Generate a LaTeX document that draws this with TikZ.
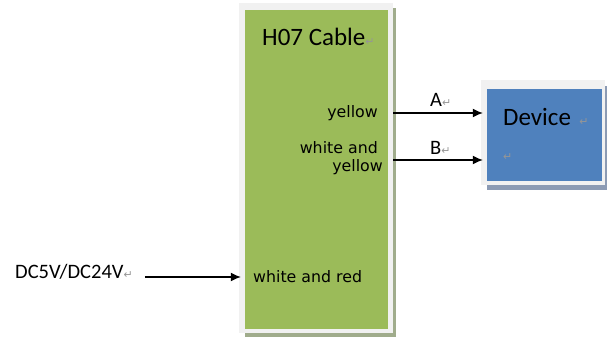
\documentclass[tikz,border=0pt]{standalone}
\usepackage{xcolor}
\usepackage{fontspec}
\setmainfont{Carlito}
\newfontfamily\wirefont{DejaVu Sans}
\usepackage{tikz}
\usetikzlibrary{arrows.meta, positioning}

\definecolor{cablegreen}{RGB}{155,187,89}
\definecolor{cableshade}{RGB}{160,172,140}
\definecolor{deviceblue}{RGB}{79,129,189}
\definecolor{deviceshade}{RGB}{140,155,180}
\definecolor{framegray}{RGB}{241,241,241}
\definecolor{markgray}{RGB}{150,150,150}

\newcommand{\pmark}{{\wirefont\color{markgray}\fontsize{11}{11}\selectfont ↵}}

\tikzset{
  boxframe/.style={fill=framegray, draw=none, inner sep=0pt},
  wire/.style={-{Latex[length=10pt,width=9pt]}, line width=1.3pt},
  wiretext/.style={font=\wirefont\fontsize{15.8}{18}\selectfont, inner sep=0pt},
  bigtext/.style={font=\fontsize{25}{28}\selectfont, inner sep=0pt},
  midtext/.style={font=\fontsize{20.5}{24}\selectfont, inner sep=0pt}
}

\begin{document}
\begin{tikzpicture}[x=1pt,y=-1pt]
        \useasboundingbox (0,0) rectangle (607,338);

            % cable block
            \fill[cableshade] (245,8) rectangle (396,337);
            \node[boxframe, minimum width=154pt, minimum height=330pt] (cableframe) at (316,168) {};
            \node[fill=cablegreen, minimum width=143pt, minimum height=319pt, inner sep=0pt] (cable) at (316.5,169.5) {};

            % device block
            \fill[deviceshade] (487,86) rectangle (607,190);
            \node[boxframe, minimum width=124pt, minimum height=105pt] (deviceframe) at (543,132.5) {};
            \node[fill=deviceblue, minimum width=115pt, minimum height=92pt, inner sep=0pt] (device) at (544.5,135) {};

            \node[bigtext, anchor=base west] (title) at (262,45) {H07 Cable\pmark};
            \node[bigtext, anchor=base west] (devname) at (503,125) {Device\,\,\pmark};
            \node[anchor=base west, inner sep=0pt] (devmark) at (503,160) {\pmark};

            \node[wiretext, anchor=base east] (ylw) at (378,117) {yellow};
            \node[wiretext, anchor=base east] (wht) at (378,153) {white and};
            \node[wiretext, anchor=base east] (wylw) at (383,171) {yellow};
            \node[wiretext, anchor=base west] (wred) at (253,282) {white and red};

            \node[midtext, anchor=base west] (alab) at (430,106) {A\pmark};
            \node[midtext, anchor=base west] (blab) at (430,154) {B\pmark};
            \node[midtext, anchor=base west] (dc) at (15,278) {DC5V/DC24V\pmark};

            \coordinate (alev) at (0,113);
            \coordinate (blev) at (0,160);
            \coordinate (plev) at (0,277);

            \draw[wire] (cableframe.east |- alev) -- ([xshift=2pt]deviceframe.west |- alev);
            \draw[wire] (cableframe.east |- blev) -- ([xshift=2pt]deviceframe.west |- blev);
            \draw[wire] ([xshift=12pt]dc.east |- plev) -- ([xshift=2pt]cableframe.west |- plev);
        \end{tikzpicture}
\end{document}
